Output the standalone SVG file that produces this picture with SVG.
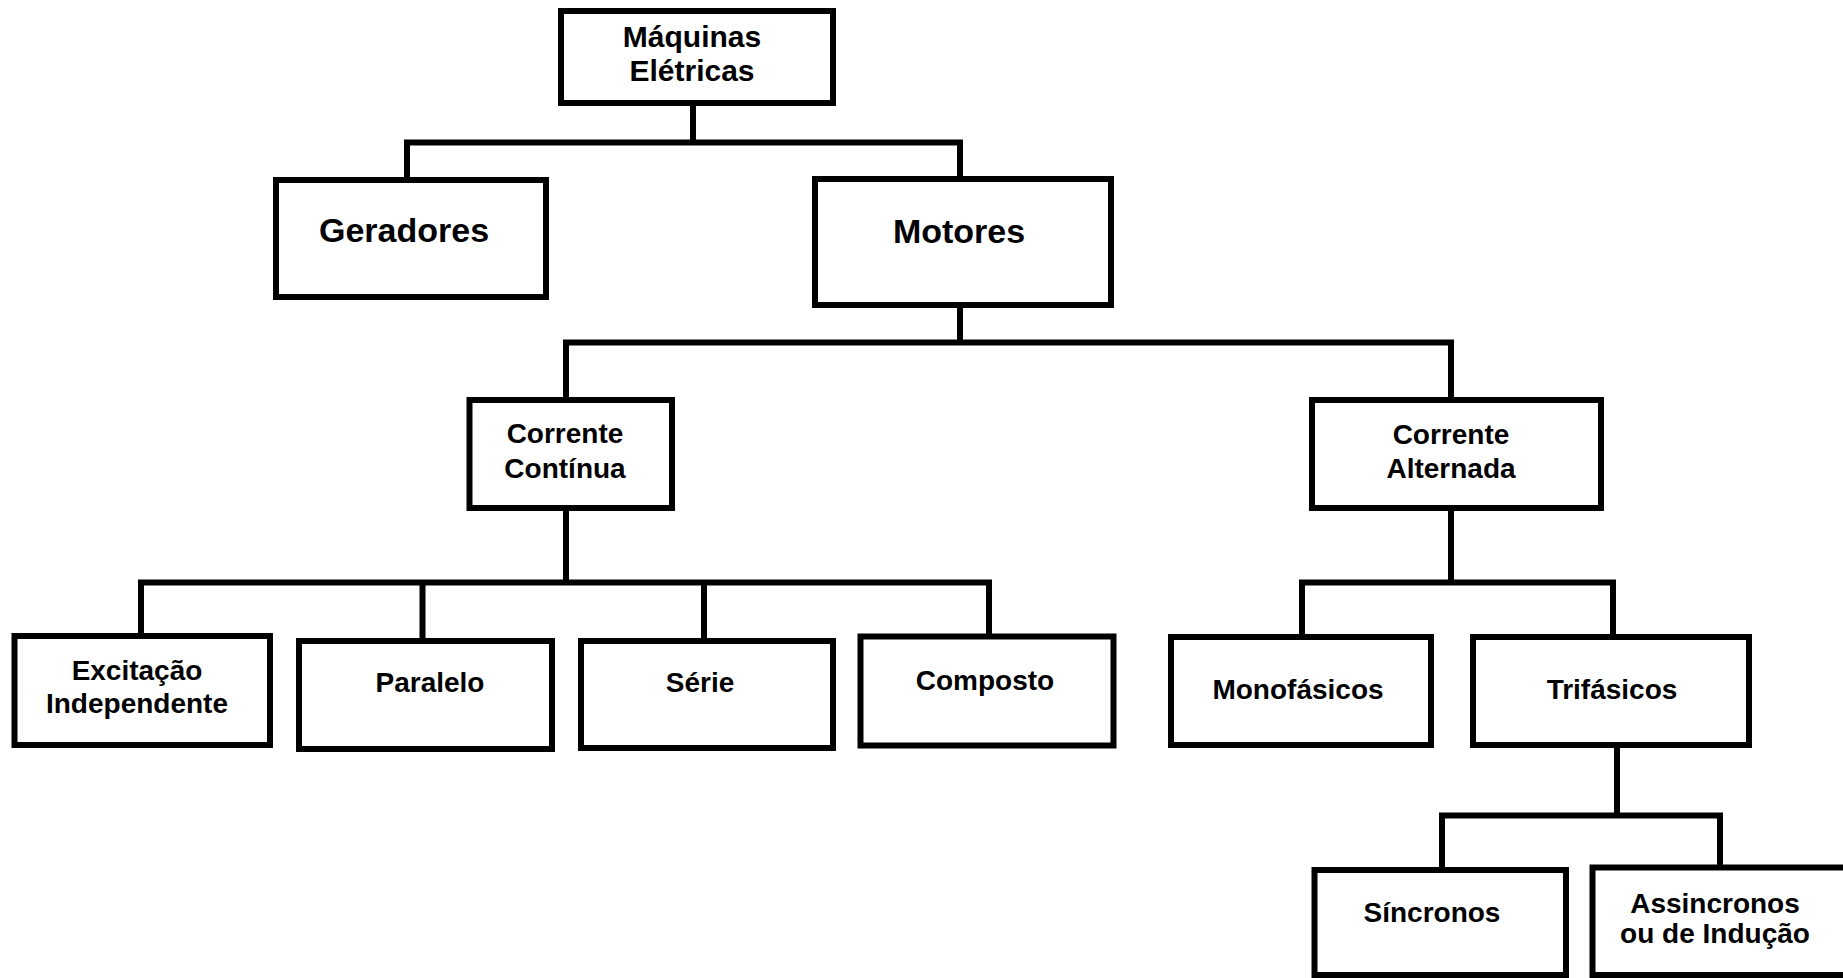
<svg xmlns="http://www.w3.org/2000/svg" width="1843" height="978" viewBox="0 0 1843 978">
  <style>
    .box { fill: #ffffff; stroke: #000000; stroke-width: 6; }
    .wire { fill: none; stroke: #000000; stroke-width: 6; stroke-linejoin: miter; }
    text { font-family: "Liberation Sans", Arial, sans-serif; font-weight: bold; fill: #000000; text-anchor: middle; }
    .t30 { font-size: 30px; }
    .t34 { font-size: 34px; }
    .t28 { font-size: 28px; }
  </style>
  <rect x="0" y="0" width="1843" height="978" fill="#ffffff"/>

  <!-- tree connectors -->
  <g id="connectors">
    <path class="wire" d="M693,106 V142.5"/>
    <path class="wire" d="M407,178 V142.5 H960 V177"/>
    <path class="wire" d="M960,308 V342.5"/>
    <path class="wire" d="M566,398 V342.5 H1451 V398"/>
    <path class="wire" d="M566,510 V582.5"/>
    <path class="wire" d="M141,635 V582.5 H989 V635"/>
    <path class="wire" d="M422.5,582.5 V639"/>
    <path class="wire" d="M704,582.5 V639"/>
    <path class="wire" d="M1451,510 V582.5"/>
    <path class="wire" d="M1302,635 V582.5 H1613 V635"/>
    <path class="wire" d="M1617,748 V815.5"/>
    <path class="wire" d="M1442,868 V815.5 H1720 V866"/>
  </g>

  <g id="maquinas-eletricas">
    <rect class="box" x="561" y="11" width="272" height="92"/>
    <text class="t30" x="692" y="47">Máquinas</text>
    <text class="t30" x="692" y="81">Elétricas</text>
  </g>

  <g id="geradores">
    <rect class="box" x="276" y="180" width="270" height="117"/>
    <text class="t34" x="404" y="242">Geradores</text>
  </g>

  <g id="motores">
    <rect class="box" x="815" y="179" width="296" height="126"/>
    <text class="t34" x="959" y="243">Motores</text>
  </g>

  <g id="corrente-continua">
    <rect class="box" x="469.5" y="400" width="202.5" height="108"/>
    <text class="t28" x="565" y="443">Corrente</text>
    <text class="t28" x="565" y="478">Contínua</text>
  </g>

  <g id="corrente-alternada">
    <rect class="box" x="1312" y="400" width="289" height="108"/>
    <text class="t28" x="1451" y="444">Corrente</text>
    <text class="t28" x="1451" y="478">Alternada</text>
  </g>

  <g id="excitacao-independente">
    <rect class="box" x="14.5" y="636" width="255.5" height="109"/>
    <text class="t28" x="137" y="680">Excitação</text>
    <text class="t28" x="137" y="713">Independente</text>
  </g>

  <g id="paralelo">
    <rect class="box" x="299" y="641" width="253" height="108"/>
    <text class="t28" x="430" y="692">Paralelo</text>
  </g>

  <g id="serie">
    <rect class="box" x="581" y="641" width="252" height="107"/>
    <text class="t28" x="700" y="692">Série</text>
  </g>

  <g id="composto">
    <rect class="box" x="860.5" y="636.5" width="253" height="109"/>
    <text class="t28" x="985" y="690">Composto</text>
  </g>

  <g id="monofasicos">
    <rect class="box" x="1171" y="637" width="260" height="108"/>
    <text class="t28" x="1298" y="699">Monofásicos</text>
  </g>

  <g id="trifasicos">
    <rect class="box" x="1473" y="637" width="276" height="108"/>
    <text class="t28" x="1612" y="699">Trifásicos</text>
  </g>

  <g id="sincronos">
    <rect class="box" x="1314.5" y="870" width="251.5" height="105"/>
    <text class="t28" x="1432" y="922">Síncronos</text>
  </g>

  <g id="assincronos">
    <rect class="box" x="1592.5" y="867.5" width="270" height="107.5"/>
    <text class="t28" x="1715" y="913">Assincronos</text>
    <text class="t28" x="1715" y="943">ou de Indução</text>
  </g>
</svg>
